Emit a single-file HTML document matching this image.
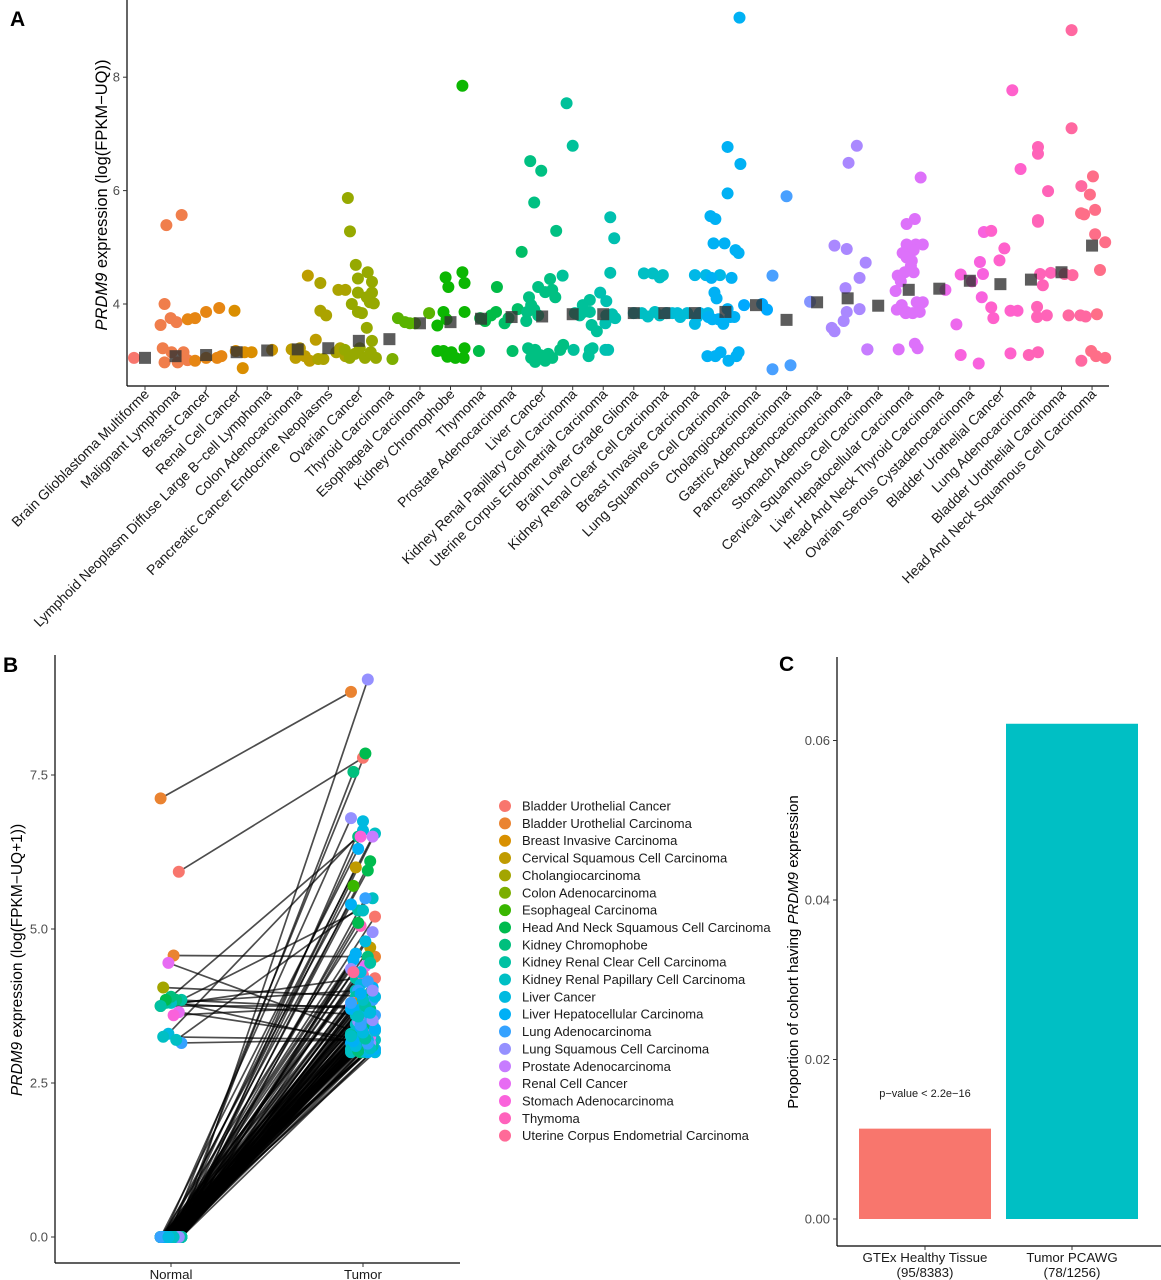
<!DOCTYPE html>
<html><head><meta charset="utf-8">
<style>
html,body{margin:0;padding:0;background:#fff;}
svg{display:block;font-family:"Liberation Sans",Arial,sans-serif;}
</style></head>
<body>
<svg id="fig" width="1161" height="1280" viewBox="0 0 1161 1280" xmlns="http://www.w3.org/2000/svg">
<g id="panelA"></g>
<g id="panelB"></g>
<g id="panelC"></g>
</svg>
<script>
// ---------- Panel A data ----------
const catsA = ["Brain Glioblastoma Multiforme","Malignant Lymphoma","Breast Cancer","Renal Cell Cancer","Lymphoid Neoplasm Diffuse Large B\u2212cell Lymphoma","Colon Adenocarcinoma","Pancreatic Cancer Endocrine Neoplasms","Ovarian Cancer","Thyroid Carcinoma","Esophageal Carcinoma","Kidney Chromophobe","Thymoma","Prostate Adenocarcinoma","Liver Cancer","Kidney Renal Papillary Cell Carcinoma","Uterine Corpus Endometrial Carcinoma","Brain Lower Grade Glioma","Kidney Renal Clear Cell Carcinoma","Breast Invasive Carcinoma","Lung Squamous Cell Carcinoma","Cholangiocarcinoma","Gastric Adenocarcinoma","Pancreatic Adenocarcinoma","Stomach Adenocarcinoma","Cervical Squamous Cell Carcinoma","Liver Hepatocellular Carcinoma","Head And Neck Thyroid Carcinoma","Ovarian Serous Cystadenocarcinoma","Bladder Urothelial Cancer","Lung Adenocarcinoma","Bladder Urothelial Carcinoma","Head And Neck Squamous Cell Carcinoma"];
const mediansA = [3.05,3.08,3.1,3.15,3.18,3.2,3.22,3.35,3.38,3.66,3.68,3.74,3.77,3.78,3.82,3.82,3.84,3.84,3.84,3.86,3.98,3.72,4.03,4.1,3.97,4.25,4.27,4.41,4.35,4.43,4.56,5.03];
const yTicksA = [4,6,8];
// points: [category index, jitter (fraction of category spacing), value]
const pointsA = [
[0,-0.36,3.05],
[1,-0.3,5.39],[1,0.2,5.57],[1,-0.36,4.0],[1,-0.49,3.63],[1,-0.16,3.75],[1,0.03,3.68],[1,-0.42,3.22],[1,-0.13,3.15],[1,-0.36,2.97],[1,0.07,2.97],[1,0.39,3.01],[1,0.26,3.15],
[2,-0.6,3.73],[2,-0.36,3.75],[2,0,3.86],[2,0.43,3.93],[2,-0.36,3.0],[2,0,3.05],[2,0.36,3.05],[2,0.5,3.08],
[3,-0.07,3.88],[3,0.2,2.87],[3,-0.03,3.17],[3,0.26,3.15],[3,0.49,3.15],
[4,0.16,3.19],
[5,0.33,4.5],[5,0.07,3.22],[5,0.23,3.08],[5,0.39,3.0],[5,-0.2,3.2],[5,-0.07,3.05],[5,0.59,3.37],
[6,-0.26,4.37],[6,-0.26,3.88],[6,-0.07,3.8],[6,0.33,4.25],[6,0.56,4.25],[6,0.39,3.22],[6,0.56,3.08],[6,0.26,3.15],[6,-0.16,3.03],[6,-0.33,3.03],
[7,-0.36,5.87],[7,-0.29,5.28],[7,-0.1,4.69],[7,-0.03,4.45],[7,0.29,4.56],[7,0.43,4.39],[7,0.43,4.2],[7,-0.03,4.2],[7,0.26,4.12],[7,0.36,4.03],[7,0.49,4.01],[7,-0.23,4.0],[7,0.1,3.84],[7,-0.03,3.86],[7,0.26,3.58],[7,0.43,3.35],[7,0.03,3.22],[7,-0.46,3.19],[7,-0.13,3.12],[7,0.2,3.05],[7,0.39,3.15],[7,0.56,3.05],[7,-0.3,3.05],
[8,0.1,3.03],
[9,-0.72,3.75],[9,-0.49,3.68],[9,-0.33,3.66],[9,-0.16,3.66],[9,0.3,3.84],
[10,-0.16,4.47],[10,-0.07,4.3],[10,-0.13,3.73],[10,-0.43,3.62],[10,-0.23,3.86],[10,-0.43,3.17],[10,-0.23,3.17],[10,-0.1,3.07],[10,0.03,3.15],[10,0.16,3.05],[10,0.39,4.56],[10,0.46,4.37],[10,0.46,3.86],[10,0.46,3.22],[10,0.43,3.05],[10,0.39,7.85],
[11,0.52,4.3],[11,0.49,3.86],[11,-0.03,3.75],[11,0.13,3.7],[11,-0.07,3.17],[11,0.33,3.8],
[12,-0.1,3.75],[12,-0.23,3.66],[12,0.33,4.92],[12,0.03,3.17],[12,0.2,3.91],
[13,-0.39,6.52],[13,-0.03,6.35],[13,-0.26,5.79],[13,0.46,5.29],[13,0.26,4.44],[13,-0.13,4.3],[13,0.1,4.21],[13,0.33,4.25],[13,0.43,4.12],[13,-0.43,4.12],[13,-0.36,3.98],[13,-0.49,3.86],[13,-0.52,3.7],[13,-0.26,3.9],[13,-0.13,3.8],[13,-0.46,3.22],[13,-0.23,3.19],[13,-0.07,3.1],[13,0.1,3.0],[13,0.33,3.05],[13,0.59,3.19],[13,-0.23,2.98],[13,0,3.05],[13,0.69,3.28],[13,0.2,3.12],[13,-0.36,3.05],
[14,-0.2,7.54],[14,0,6.79],[14,-0.33,4.5],[14,0.07,3.84],[14,0.23,3.8],[14,0.36,3.86],[14,0.56,3.86],[14,0.33,3.98],[14,0.56,4.07],[14,0.62,3.63],[14,0.79,3.52],[14,0.03,3.19],[14,0.56,3.19],[14,0.65,3.22],[14,0.52,3.08],
[15,0.23,5.53],[15,0.36,5.16],[15,0.23,4.55],[15,-0.1,4.2],[15,0.1,4.05],[15,0.1,3.8],[15,0.29,3.82],[15,0.39,3.75],[15,0.07,3.66],[15,0.07,3.19],[15,0.16,3.19],
[16,0,3.84],[16,0.26,3.84],[16,0.46,3.78],[16,0.69,3.86],[16,0.85,3.8],[16,0.62,4.54],[16,0.85,4.47],[16,0.95,4.51],[16,0.33,4.54],
[17,0.07,3.84],[17,0.26,3.84],[17,0.43,3.84],[17,0.52,3.77],[17,0.75,3.84],
[18,0,4.51],[18,0.36,4.51],[18,0.82,4.51],[18,0.07,3.77],[18,0.16,3.84],[18,0.43,3.84],[18,0,3.65],
[19,-0.49,5.55],[19,-0.33,5.5],[19,-0.39,5.07],[19,-0.03,5.07],[19,0.33,4.95],[19,0.43,4.9],[19,-0.46,4.46],[19,-0.36,4.2],[19,-0.29,4.1],[19,0.2,4.46],[19,-0.56,3.77],[19,-0.43,3.73],[19,-0.23,3.73],[19,-0.07,3.65],[19,0.16,3.77],[19,0.07,3.91],[19,0.29,3.77],[19,-0.59,3.08],[19,-0.33,3.08],[19,-0.16,3.15],[19,0.1,3.0],[19,0.36,3.08],[19,0.43,3.15],[19,0.07,6.77],[19,0.49,6.47],[19,0.07,5.95],[19,0.46,9.05],
[20,-0.39,3.98],[20,0.2,4.0],[20,0.36,3.9],
[21,0,5.9],[21,0.13,2.92],[21,-0.46,4.5],[21,-0.46,2.85],
[22,-0.23,4.04],
[23,0.3,6.79],[23,0.03,6.49],[23,-0.43,5.03],[23,-0.03,4.97],[23,0.59,4.73],[23,0.39,4.46],[23,-0.07,4.28],[23,-0.13,3.7],[23,-0.52,3.58],[23,-0.43,3.52],[23,-0.03,3.86],[23,0.39,3.91],[23,0.65,3.2],
[24,-0.36,3.2],
[25,-0.07,5.41],[25,0.2,5.5],[25,-0.07,5.05],[25,0.23,5.05],[25,0.46,5.05],[25,0.16,4.95],[25,-0.2,4.9],[25,-0.07,4.82],[25,0.1,4.76],[25,-0.36,4.5],[25,-0.13,4.56],[25,0.16,4.56],[25,-0.26,4.4],[25,-0.43,4.23],[25,-0.23,3.98],[25,-0.07,3.86],[25,0.26,4.03],[25,0.46,4.03],[25,-0.39,3.9],[25,-0.1,3.84],[25,0.13,3.84],[25,0.36,3.86],[25,0.2,3.3],[25,0.29,3.22],[25,0.39,6.23],[25,-0.33,3.2],[25,0.07,4.67],
[26,0.2,4.25],[26,0.56,3.64],
[27,-0.3,4.52],[27,0.33,4.74],[27,0.43,4.53],[27,0.46,5.27],[27,0.39,4.12],[27,-0.3,3.1],[27,0.29,2.95],[27,0.07,4.4],
[28,-0.03,4.77],[28,0.13,4.98],[28,-0.3,5.29],[28,-0.3,3.94],[28,-0.23,3.75],[28,0.39,7.77],[28,0.66,6.38],[28,0.33,3.88],[28,0.56,3.88],[28,0.33,3.13],
[29,0.23,6.77],[29,0.23,6.65],[29,0.56,5.99],[29,0.23,5.48],[29,0.23,5.45],[29,0.3,4.53],[29,0.65,4.55],[29,0.39,4.33],[29,0.2,3.95],[29,0.2,3.77],[29,0.52,3.8],[29,-0.07,3.1],[29,0.23,3.15],
[30,0.33,8.83],[30,0.33,7.1],[30,0.36,4.51],[30,0.23,3.8],[30,0.62,3.8],[30,0.79,3.78],[30,0.65,6.08],[30,0.65,3.0],[30,0.1,4.53],
[31,0.03,6.25],[31,-0.07,5.93],[31,0.1,5.66],[31,-0.36,5.6],[31,-0.26,5.58],[31,0.1,5.23],[31,0.43,5.09],[31,0.26,4.6],[31,0.16,3.82],[31,-0.03,3.17],[31,0.13,3.08],[31,0.43,3.05]
];

// ---------- Panel B data ----------
const catsB = ["Bladder Urothelial Cancer","Bladder Urothelial Carcinoma","Breast Invasive Carcinoma","Cervical Squamous Cell Carcinoma","Cholangiocarcinoma","Colon Adenocarcinoma","Esophageal Carcinoma","Head And Neck Squamous Cell Carcinoma","Kidney Chromophobe","Kidney Renal Clear Cell Carcinoma","Kidney Renal Papillary Cell Carcinoma","Liver Cancer","Liver Hepatocellular Carcinoma","Lung Adenocarcinoma","Lung Squamous Cell Carcinoma","Prostate Adenocarcinoma","Renal Cell Cancer","Stomach Adenocarcinoma","Thymoma","Uterine Corpus Endometrial Carcinoma"];
const groupsB = ["Normal","Tumor"];
const yTicksB = [0,2.5,5,7.5];
const pairCat = [1,0,1,16,4,9,8,10,9,6,16,17,11,10,13,10,8,7,9,
14,8,7,14,11,10,17,15,12,7,3,7,6,13,12,10,0,18,14,7,3,5,8,12,16,14,19,0,11,12,13,10,9,8,19,17,12,18,15,11,13,2,12,10,
10,11,9,12,14,13,8,9,10,16,11,12,13,9,10,14,11,12,8,10,17,11,12,9,13,10,12,13,11,14,10,9,12,13,19,11,
10,11,12,13,9,8,14,10,11,12,13,9,10,11,12,8,14,13,10,11,12,9,13,10,11,12,14,8,10,11,13,12,9,10,11,12,13,14,10,11];
const pairNormal = [7.12,5.93,4.57,4.45,4.05,3.85,3.85,3.8,3.8,3.75,3.65,3.6,3.3,3.25,3.15,3.2,3.9,3.85,3.75,
0,0,0,0,0,0,0,0,0,0,0,0,0,0,0,0,0,0,0,0,0,0,0,0,0,0,0,0,0,0,0,0,0,0,0,0,0,0,0,0,0,0,0,0,
0,0,0,0,0,0,0,0,0,0,0,0,0,0,0,0,0,0,0,0,0,0,0,0,0,0,0,0,0,0,0,0,0,0,0,0,
0,0,0,0,0,0,0,0,0,0,0,0,0,0,0,0,0,0,0,0,0,0,0,0,0,0,0,0,0,0,0,0,0,0,0,0,0,0,0,0];
const pairTumor = [8.85,7.78,4.55,3.3,3.9,5.3,3.7,4.0,3.6,3.75,3.2,3.75,6.6,3.2,3.2,5.5,6.5,3.1,4.2,
9.05,7.55,7.85,6.8,6.75,6.55,6.5,6.5,6.3,6.1,6.0,5.95,5.7,5.5,5.4,5.3,5.2,5.05,4.95,5.1,4.7,4.6,4.55,4.5,4.4,4.35,4.25,4.2,4.1,4.05,4.0,3.95,3.9,3.85,3.8,3.75,3.7,3.6,3.9,4.3,3.85,3.8,3.5,3.45,
3.3,3.25,3.2,3.15,3.1,3.05,3.0,3.1,3.15,3.25,3.05,3.2,3.1,3.0,3.3,3.15,3.0,3.05,3.1,3.2,3.3,3.1,3.0,3.25,3.2,3.05,3.4,3.6,3.7,3.5,3.65,4.45,4.6,4.15,4.3,4.8,
3.0,3.02,3.05,3.08,3.1,3.12,3.15,3.18,3.2,3.22,3.25,3.28,3.3,3.35,3.4,3.45,3.5,3.55,3.6,3.65,3.7,3.75,3.8,3.85,3.9,3.95,4.0,3.02,3.06,3.1,3.14,3.18,3.22,3.26,3.32,3.38,3.44,3.52,3.58,3.64];

// ---------- Panel C data ----------
const catsC = ["GTEx Healthy Tissue","Tumor PCAWG"];
const countsC = ["(95/8383)","(78/1256)"];
const valuesC = [0.01133,0.0621];
const yTicksC = [0,0.02,0.04,0.06];
const yTickLabelsC = ["0.00","0.02","0.04","0.06"];

// ---------- helpers ----------
const NS="http://www.w3.org/2000/svg";
function mk(tag,attrs,parent){const e=document.createElementNS(NS,tag);for(const k in attrs)e.setAttribute(k,attrs[k]);parent.appendChild(e);return e;}
function hcl(h,c,l){
  const hr=h*Math.PI/180,U=c*Math.cos(hr),V=c*Math.sin(hr);
  const Xn=95.047,Yn=100,Zn=108.883;
  const un=4*Xn/(Xn+15*Yn+3*Zn),vn=9*Yn/(Xn+15*Yn+3*Zn);
  const Y=l>8?Yn*Math.pow((l+16)/116,3):Yn*l/903.3;
  const up=U/(13*l)+un,vp=V/(13*l)+vn;
  const X=Y*9*up/(4*vp),Z=Y*(12-3*up-20*vp)/(4*vp);
  const x=X/100,y=Y/100,z=Z/100;
  let r=3.2404542*x-1.5371385*y-0.4985314*z,g=-0.9692660*x+1.8760108*y+0.0415560*z,b=0.0556434*x-0.2040259*y+1.0572252*z;
  const gm=v=>{v=v<=0.0031308?12.92*v:1.055*Math.pow(v,1/2.4)-0.055;return Math.round(Math.max(0,Math.min(1,v))*255);};
  return "rgb("+gm(r)+","+gm(g)+","+gm(b)+")";
}
function huePal(n){const a=[];for(let i=0;i<n;i++)a.push(hcl(15+360*i/n,100,65));return a;}

// ---------- Panel A ----------
(function(){
  const g=document.getElementById('panelA');
  const x0=145,dx=30.55,xL=127,xR=1109,yB=386;
  const xA=i=>x0+i*dx, yA=v=>304-(v-4)*56.7;
  const pal=huePal(catsA.length);
  const t=mk('text',{x:10,y:26,'font-size':21,'font-weight':'bold'},g);t.textContent='A';
  
  const ay=mk('line',{x1:xL,y1:0,x2:xL,y2:yB,stroke:'#000','stroke-width':1.2},g);
  
  const ax=mk('line',{x1:xL,y1:yB,x2:xR,y2:yB,stroke:'#000','stroke-width':1.2},g);
  
  yTicksA.forEach(v=>{
    mk('line',{x1:xL-4,y1:yA(v),x2:xL,y2:yA(v),stroke:'#333'},g);
    const tt=mk('text',{x:xL-7,y:yA(v)+4.5,'font-size':13,'text-anchor':'end',fill:'#4d4d4d'},g);
    tt.textContent=String(v);
    
  });
  const yt=mk('text',{transform:'translate(107,195) rotate(-90)','font-size':16.5,'text-anchor':'middle'},g);
  yt.innerHTML='<tspan font-style="italic">PRDM9</tspan> expression (log(FPKM\u2212UQ))';
  
  catsA.forEach((c,i)=>{
    mk('line',{x1:xA(i),y1:yB,x2:xA(i),y2:yB+4,stroke:'#333'},g);
    const tl=mk('text',{transform:'translate('+(xA(i)+5)+','+(yB+9)+') rotate(-45)','font-size':14,'text-anchor':'end',fill:'#1a1a1a'},g);
    tl.textContent=c;
    
  });
  pointsA.forEach(p=>{
    const c=mk('circle',{cx:xA(p[0])+p[1]*dx,cy:yA(p[2]),r:6,fill:pal[p[0]]},g);
    
  });
  mediansA.forEach((m,i)=>{
    const r=mk('rect',{x:xA(i)-6,y:yA(m)-6,width:12,height:12,fill:'#333','fill-opacity':0.8},g);
    
  });
})();

// ---------- Panel B ----------
(function(){
  const g=document.getElementById('panelB');
  const xL=55,xR=460,yT=655,yB=1263;
  const xB={Normal:171,Tumor:363};
  const yBv=v=>1237-v*61.6;
  const pal=huePal(catsB.length);
  const t=mk('text',{x:3,y:672,'font-size':21,'font-weight':'bold'},g);t.textContent='B';
  
  const ay=mk('line',{x1:xL,y1:yT,x2:xL,y2:yB,stroke:'#000','stroke-width':1.2},g);
  
  const ax=mk('line',{x1:xL,y1:yB,x2:xR,y2:yB,stroke:'#000','stroke-width':1.2},g);
  
  yTicksB.forEach(v=>{
    mk('line',{x1:xL-4,y1:yBv(v),x2:xL,y2:yBv(v),stroke:'#333'},g);
    const tt=mk('text',{x:xL-7,y:yBv(v)+4.5,'font-size':13,'text-anchor':'end',fill:'#4d4d4d'},g);
    tt.textContent=v.toFixed(1);
    
  });
  groupsB.forEach(s=>{
    mk('line',{x1:xB[s],y1:yB,x2:xB[s],y2:yB+4,stroke:'#333'},g);
    const tt=mk('text',{x:xB[s],y:yB+16,'font-size':13.3,'text-anchor':'middle',fill:'#1a1a1a'},g);
    tt.textContent=s;
    
  });
  const yt=mk('text',{transform:'translate(22,960) rotate(-90)','font-size':15.5,'text-anchor':'middle'},g);
  yt.innerHTML='<tspan font-style="italic">PRDM9</tspan> expression (log(FPKM\u2212UQ+1))';
  
  const nx=i=>xB.Normal+((i*7)%9-4)*2.6;
  const tx=i=>xB.Tumor+((i*5)%11-5)*2.4;
  pairTumor.forEach((tv,i)=>{
    const l=mk('line',{x1:nx(i),y1:yBv(pairNormal[i]),x2:tx(i),y2:yBv(tv),stroke:'#000','stroke-opacity':0.7,'stroke-width':1.7},g);
    
  });
  pairTumor.forEach((tv,i)=>{
    const a=mk('circle',{cx:nx(i),cy:yBv(pairNormal[i]),r:6,fill:pal[pairCat[i]]},g);
    
    const b=mk('circle',{cx:tx(i),cy:yBv(tv),r:6,fill:pal[pairCat[i]]},g);
    
  });
  catsB.forEach((c,i)=>{
    const y=806+i*17.35;
    const lg=mk('g',{},g);
    
    mk('circle',{cx:505,cy:y,r:6,fill:pal[i]},lg);
    const tt=mk('text',{x:522,y:y+4.5,'font-size':13,fill:'#1a1a1a'},lg);
    tt.textContent=c;
  });
})();

// ---------- Panel C ----------
(function(){
  const g=document.getElementById('panelC');
  const xL=837,xR=1161,yT=657,yB=1246;
  const yC=v=>1219-v*7975;
  const xc=[925,1072],bw=132;
  const cols=["#F8766D","#00BFC4"];
  const t=mk('text',{x:779,y:671,'font-size':21,'font-weight':'bold'},g);t.textContent='C';
  
  valuesC.forEach((v,i)=>{
    const r=mk('rect',{x:xc[i]-bw/2,y:yC(v),width:bw,height:yC(0)-yC(v),fill:cols[i]},g);
    
  });
  const ay=mk('line',{x1:xL,y1:yT,x2:xL,y2:yB,stroke:'#000','stroke-width':1.2},g);
  
  const ax=mk('line',{x1:xL,y1:yB,x2:xR,y2:yB,stroke:'#000','stroke-width':1.2},g);
  
  yTicksC.forEach((v,i)=>{
    mk('line',{x1:xL-4,y1:yC(v),x2:xL,y2:yC(v),stroke:'#333'},g);
    const tt=mk('text',{x:xL-7,y:yC(v)+4.5,'font-size':13,'text-anchor':'end',fill:'#4d4d4d'},g);
    tt.textContent=yTickLabelsC[i];
    
  });
  catsC.forEach((c,i)=>{
    mk('line',{x1:xc[i],y1:yB,x2:xc[i],y2:yB+4,stroke:'#333'},g);
    const tt=mk('text',{x:xc[i],y:yB+16,'font-size':13.3,'text-anchor':'middle',fill:'#1a1a1a'},g);
    tt.textContent=c;
    
    const t2=mk('text',{x:xc[i],y:yB+31,'font-size':13.3,'text-anchor':'middle',fill:'#1a1a1a'},g);
    t2.textContent=countsC[i];
    
  });
  const pv=mk('text',{x:xc[0],y:1097,'font-size':11,'text-anchor':'middle',fill:'#1a1a1a'},g);
  pv.textContent='p\u2212value < 2.2e\u221216';
  
  const yt=mk('text',{transform:'translate(798,952) rotate(-90)','font-size':15,'text-anchor':'middle'},g);
  yt.innerHTML='Proportion of cohort having <tspan font-style="italic">PRDM9</tspan> expression';
  
})();
</script>
</body></html>
